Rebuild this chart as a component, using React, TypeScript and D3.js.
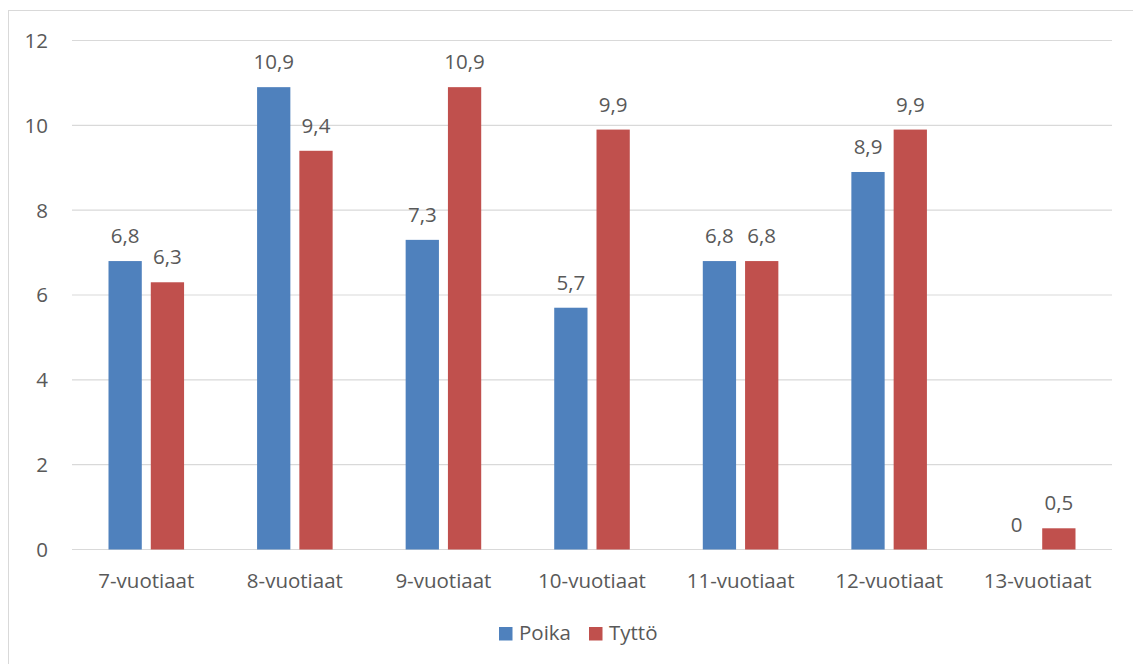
import React from "react";
import * as d3 from "d3";

const categories = ["7-vuotiaat", "8-vuotiaat", "9-vuotiaat", "10-vuotiaat", "11-vuotiaat", "12-vuotiaat", "13-vuotiaat"];
const poika = [6.8, 10.9, 7.3, 5.7, 6.8, 8.9, 0];
const tytto = [6.3, 9.4, 10.9, 9.9, 6.8, 9.9, 0.5];
const seriesNames = ["Poika", "Tyttö"];
const seriesColors = ["#4F81BD", "#C0504D"];
const yTicks = [0, 2, 4, 6, 8, 10, 12];

const W = 1133;
const H = 664;
const FONT = "'Open Sans', sans-serif";
const FS = 20.5;
const TEXT = "#595959";

export default function App() {
  const left = 72, right = 1112, top = 40.5, bottom = 549.5;
  const x = d3.scaleBand<string>().domain(categories).range([left, right]);
  const y = d3.scaleLinear().domain([0, 12]).range([bottom, top]);
  const barW = x.bandwidth() * 0.224;
  const gap = 9;
  const fmt = (v: number) => String(v).replace(".", ",");
  const series = [poika, tytto];

  return (
    <svg width={W} height={H} style={{ position: "absolute", left: 0, top: 0, background: "#fff" }}>
      <rect x={8.5} y={10.5} width={1130} height={660} fill="#fff" stroke="#D9D9D9" strokeWidth={1} />
      {yTicks.map((t) => (
        <g key={t}>
          <line x1={left} x2={right} y1={y(t)} y2={y(t)} stroke="#D9D9D9" strokeWidth={1.2} />
          <text x={48} y={y(t)} dy="0.36em" textAnchor="end" fontFamily={FONT} fontSize={FS} fill={TEXT}>
            {t}
          </text>
        </g>
      ))}
      {categories.map((c, i) => {
        const cx = x(c)! + x.bandwidth() / 2;
        return (
          <g key={c}>
            {series.map((s, j) => {
              const bx = j === 0 ? cx - gap / 2 - barW : cx + gap / 2;
              const v = s[i];
              return (
                <g key={j}>
                  {v > 0 && (
                    <rect x={bx} y={y(v)} width={barW} height={y(0) - y(v)} fill={seriesColors[j]} />
                  )}
                  <text x={bx + barW / 2} y={y(v) - 18} textAnchor="middle" fontFamily={FONT} fontSize={FS} fill={TEXT}>
                    {fmt(v)}
                  </text>
                </g>
              );
            })}
            <text x={cx} y={588} textAnchor="middle" fontFamily={FONT} fontSize={FS} fill={TEXT}>
              {c}
            </text>
          </g>
        );
      })}
      {seriesNames.map((n, j) => {
        const lx = j === 0 ? 499 : 589;
        return (
          <g key={n}>
            <rect x={lx} y={627} width={13.5} height={13.5} fill={seriesColors[j]} />
            <text x={lx + 20} y={640} fontFamily={FONT} fontSize={FS} fill={TEXT}>
              {n}
            </text>
          </g>
        );
      })}
    </svg>
  );
}
